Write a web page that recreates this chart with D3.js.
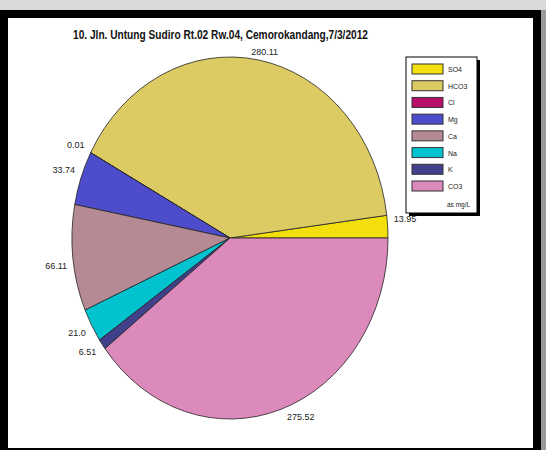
<!DOCTYPE html>
<html>
<head>
<meta charset="utf-8">
<script src="https://cdn.jsdelivr.net/npm/d3@7"></script>
<style>
  html, body { margin: 0; padding: 0; background: #d9d9d9; }
  svg { display: block; }
</style>
</head>
<body>
<svg id="chart" width="546" height="450"></svg>
<script>
const categories = ["SO4", "HCO3", "Cl", "Mg", "Ca", "Na", "K", "CO3"];
const values = [13.95, 280.11, 0.01, 33.74, 66.11, 21.0, 6.51, 275.52];
const valueLabels = ["13.95", "280.11", "0.01", "33.74", "66.11", "21.0", "6.51", "275.52"];
const colors = ["#f3df0c", "#dccb63", "#b80f6a", "#4d4dcb", "#b58a94", "#00c3cf", "#41408a", "#dc89bb"];
const titleText = "10. Jln. Untung Sudiro Rt.02 Rw.04, Cemorokandang,7/3/2012";
const unitText = "as mg/L";

const svg = d3.select("#chart");
const W = 546, H = 450;

// background frame
svg.append("rect").attr("x", 0).attr("y", 0).attr("width", W).attr("height", H).attr("fill", "#d9d9d9");
svg.append("rect").attr("x", 541).attr("y", 10).attr("width", 5).attr("height", 440).attr("fill", "#9a9a9a");
svg.append("rect").attr("x", 0).attr("y", 10).attr("width", 541).attr("height", 440).attr("fill", "#000");
svg.append("rect").attr("x", 8).attr("y", 18).attr("width", 525).attr("height", 430).attr("fill", "#fff");

// title
svg.append("text")
  .attr("x", 73).attr("y", 39)
  .attr("font-family", "Liberation Sans, Arial, sans-serif")
  .attr("font-weight", "bold")
  .attr("font-size", 12)
  .attr("textLength", 295)
  .attr("lengthAdjust", "spacingAndGlyphs")
  .attr("fill", "#111")
  .text(titleText);

// pie (elliptical)
const cx = 230, cy = 238, rx = 158, ry = 181, R = 100;
const data = categories.map((c, i) => ({ cat: c, value: values[i], label: valueLabels[i], color: colors[i] }));
const pie = d3.pie().value(d => d.value).sort(null)
  .startAngle(Math.PI / 2).endAngle(Math.PI / 2 - 2 * Math.PI);
const arcs = pie(data);
const arc = d3.arc().innerRadius(0).outerRadius(R);

const g = svg.append("g").attr("transform", `translate(${cx},${cy}) scale(${rx / R},${ry / R})`);
g.selectAll("path").data(arcs).join("path")
  .attr("d", arc)
  .attr("fill", d => d.data.color)
  .attr("stroke", "#222")
  .attr("stroke-width", 0.8)
  .attr("vector-effect", "non-scaling-stroke");

// labels
svg.append("g").selectAll("text").data(arcs).join("text")
  .each(function (d) {
    const a = (d.startAngle + d.endAngle) / 2;
    const s = Math.sin(a), c = Math.cos(a); // s: right, c: up
    const px = cx + rx * s, py = cy - ry * c;
    const anchor = s >= 0.3 ? "start" : (s <= -0.3 ? "end" : "middle");
    const x = px + (s >= 0 ? 6 : -6);
    const y = c > 0 ? py - 5 : py + 11;
    d3.select(this).attr("x", x).attr("y", y).attr("text-anchor", anchor);
  })
  .attr("font-family", "Liberation Sans, Arial, sans-serif")
  .attr("font-size", 9)
  .attr("fill", "#222")
  .text(d => d.data.label);

// legend
const lg = svg.append("g");
lg.append("rect").attr("x", 409).attr("y", 60).attr("width", 71).attr("height", 156).attr("fill", "#000");
lg.append("rect").attr("x", 406).attr("y", 57).attr("width", 71).attr("height", 156)
  .attr("fill", "#fff").attr("stroke", "#000").attr("stroke-width", 1);
const itemY = d3.scaleLinear().domain([0, categories.length - 1]).range([64, 181]);
const items = lg.selectAll("g.item").data(data).join("g").attr("class", "item");
items.append("rect")
  .attr("x", 412).attr("y", (d, i) => itemY(i))
  .attr("width", 31).attr("height", 10)
  .attr("fill", d => d.color).attr("stroke", "#333").attr("stroke-width", 1);
items.append("text")
  .attr("x", 448).attr("y", (d, i) => itemY(i) + 8)
  .attr("font-family", "Liberation Sans, Arial, sans-serif")
  .attr("font-size", 7)
  .attr("fill", "#222")
  .text(d => d.cat);
lg.append("text").attr("x", 447).attr("y", 207)
  .attr("font-family", "Liberation Sans, Arial, sans-serif")
  .attr("font-size", 6.5).attr("fill", "#222")
  .text(unitText);
</script>
</body>
</html>
